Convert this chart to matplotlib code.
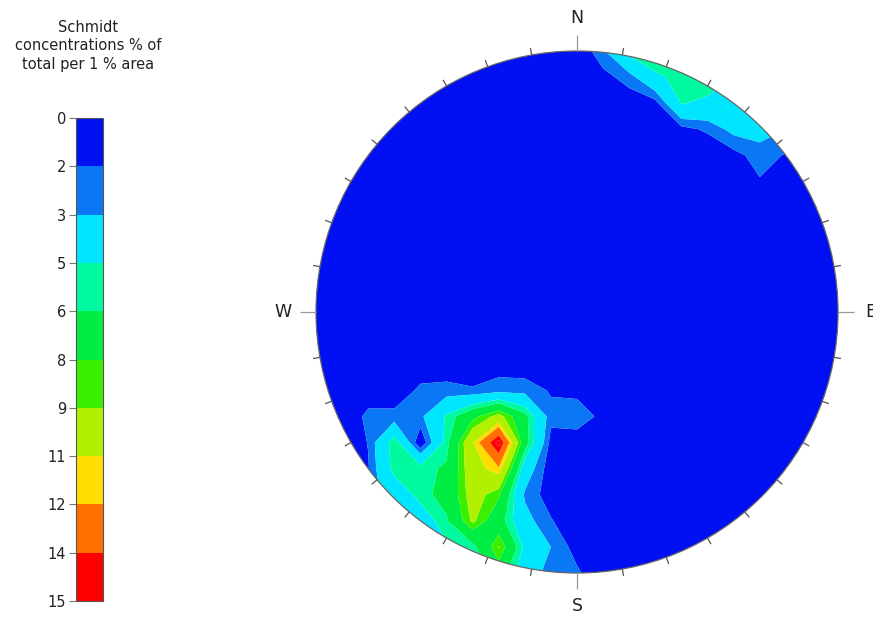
import numpy as np
import matplotlib
matplotlib.use("Agg")
import matplotlib.pyplot as plt
from matplotlib.colors import ListedColormap, BoundaryNorm
from matplotlib.patches import Circle
import matplotlib.cm as cm

# contour levels (% of total per 1 % area) and colorbar labels
levels = [0, 2, 3, 5, 6, 8, 9, 11, 12, 14, 15]
tick_labels = ["0", "2", "3", "5", "6", "8", "9", "11", "12", "14", "15"]
level_colors = ["#0010F2", "#0A78F5", "#00E6FF", "#00FAA0", "#00EE44",
                "#3AF000", "#B2F000", "#FFDD00", "#FF7000", "#FF0000"]

grid_x = np.linspace(-1, 1, 21)
grid_y = np.linspace(1, -1, 21)
density = [
    [1, 1, 1, 1, 1, 1, 1, 1, 1, 1, 1.0, 2.8, 5.5, 6.5, 6.3, 6.0, 5.0, 4.0, 3.5, 2.5, 1.5],
    [1, 1, 1, 1, 1, 1, 1, 1, 1, 1, 1.0, 1.6, 2.5, 4.6, 5.6, 6.0, 5.0, 4.0, 3.5, 2.5, 1.5],
    [1, 1, 1, 1, 1, 1, 1, 1, 1, 1, 1.0, 1.0, 1.3, 1.6, 5.1, 4.6, 4.0, 3.8, 3.2, 2.2, 1.5],
    [1, 1, 1, 1, 1, 1, 1, 1, 1, 1, 1.0, 1.0, 1.0, 1.0, 1.6, 2.2, 3.4, 3.5, 3.0, 2.0, 1.2],
    [1, 1, 1, 1, 1, 1, 1, 1, 1, 1, 1.0, 1.0, 1.0, 1.0, 1.0, 1.0, 1.6, 2.5, 1.9, 1.5, 1.0],
    [1, 1, 1, 1, 1, 1, 1, 1, 1, 1, 1.0, 1.0, 1.0, 1.0, 1.0, 1.0, 1.0, 1.9, 1.2, 1.0, 1.0],
    [1, 1, 1, 1, 1, 1, 1, 1, 1, 1, 1.0, 1.0, 1.0, 1.0, 1.0, 1.0, 1.0, 1.0, 1.0, 1.0, 1.0],
    [1, 1, 1, 1, 1, 1, 1, 1, 1, 1, 1.0, 1.0, 1.0, 1.0, 1.0, 1.0, 1.0, 1.0, 1.0, 1.0, 1.0],
    [1, 1, 1, 1, 1, 1, 1, 1, 1, 1, 1.0, 1.0, 1.0, 1.0, 1.0, 1.0, 1.0, 1.0, 1.0, 1.0, 1.0],
    [1, 1, 1, 1, 1, 1, 1, 1, 1, 1, 1.0, 1.0, 1.0, 1.0, 1.0, 1.0, 1.0, 1.0, 1.0, 1.0, 1.0],
    [1, 1, 1, 1, 1, 1, 1, 1, 1, 1, 1.0, 1.0, 1.0, 1.0, 1.0, 1.0, 1.0, 1.0, 1.0, 1.0, 1.0],
    [1, 1, 1, 1, 1, 1, 1, 1, 1, 1, 1.0, 1.0, 1.0, 1.0, 1.0, 1.0, 1.0, 1.0, 1.0, 1.0, 1.0],
    [1, 1, 1, 1.2, 1.4, 1.4, 1.4, 1.5, 1.4, 1.2, 1.0, 1.0, 1.0, 1.0, 1.0, 1.0, 1.0, 1.0, 1.0, 1.0, 1.0],
    [1, 1.0, 1.3, 1.3, 2.2, 2.3, 2.1, 2.5, 2.5, 1.9, 1.7, 1.0, 1.0, 1.0, 1.0, 1.0, 1.0, 1.0, 1.0, 1.0, 1.0],
    [1, 1.0, 2.3, 2.3, 2.7, 5.2, 7.5, 9.6, 6.5, 2.3, 2.6, 1.7, 1.0, 1.0, 1.0, 1.0, 1.0, 1.0, 1.0, 1.0, 1.0],
    [1, 1.0, 2.05, 5.8, 1.0, 5.5, 10.8, 15.6, 6.8, 1.6, 1.4, 1.0, 1.0, 1.0, 1.0, 1.0, 1.0, 1.0, 1.0, 1.0, 1.0],
    [1, 1.0, 1.9, 5.5, 5.6, 6.2, 10.2, 11.8, 4.0, 1.3, 1.1, 1.0, 1.0, 1.0, 1.0, 1.0, 1.0, 1.0, 1.0, 1.0, 1.0],
    [1, 1.0, 2.3, 3.8, 5.5, 6.6, 9.8, 8.2, 2.8, 1.4, 1.0, 1.0, 1.0, 1.0, 1.0, 1.0, 1.0, 1.0, 1.0, 1.0, 1.0],
    [1, 1.2, 2.4, 3.6, 4.0, 5.8, 9.3, 6.8, 3.5, 2.1, 1.0, 1.0, 1.0, 1.0, 1.0, 1.0, 1.0, 1.0, 1.0, 1.0, 1.0],
    [1, 1.3, 2.2, 3.2, 4.0, 4.8, 5.5, 9.1, 4.6, 3.0, 1.5, 1.0, 1.0, 1.0, 1.0, 1.0, 1.0, 1.0, 1.0, 1.0, 1.0],
    [1, 1.2, 2.0, 3.0, 3.8, 4.5, 5.0, 7.0, 4.0, 2.4, 2.2, 1.0, 1.0, 1.0, 1.0, 1.0, 1.0, 1.0, 1.0, 1.0, 1.0],
]
cardinals = ["N", "E", "S", "W"]

W, H = 873, 617
fig = plt.figure(figsize=(W / 100, H / 100), dpi=100)

cmap = ListedColormap(level_colors)
cmap.set_over(level_colors[-1])
norm = BoundaryNorm(levels, cmap.N)

# stereonet axes: centre (577, 312) px, radius 261 px
R = 261.0
lim = 1.25
span = 2 * lim * R
ax = fig.add_axes([(577 - span / 2) / W, (H - 312 - span / 2) / H, span / W, span / H])
ax.set_xlim(-lim, lim)
ax.set_ylim(-lim, lim)
ax.axis("off")

X, Y = np.meshgrid(grid_x, grid_y)
Z = np.array(density)
cs = ax.contourf(X, Y, Z, levels=levels, cmap=cmap, norm=norm, extend="max", antialiased=True)
clip = Circle((0, 0), 1.0, transform=ax.transData, facecolor="none", edgecolor="none")
ax.add_patch(clip)
cs.set_clip_path(clip)

ax.add_patch(Circle((0, 0), 1.0, fill=False, lw=0.9, ec="#666666", zorder=3))

# 10 degree ticks round the primitive
for az in range(0, 360, 10):
    a = np.radians(az)
    if az % 90 == 0:
        r1, col = 1.06, "#999999"
    else:
        r1, col = 1.027, "#555555"
    ax.plot([np.sin(a), r1 * np.sin(a)], [np.cos(a), r1 * np.cos(a)],
            color=col, lw=0.9, solid_capstyle="butt", zorder=3, clip_on=False)

for lab, az in zip(cardinals, [0, 90, 180, 270]):
    a = np.radians(az)
    ax.text(1.125 * np.sin(a), 1.125 * np.cos(a), lab, ha="center", va="center",
            fontsize=12.5, color="#222222", clip_on=False)

# colorbar
cax = fig.add_axes([76 / W, (H - 601) / H, 27 / W, 483 / H])
sm = cm.ScalarMappable(norm=norm, cmap=cmap)
cb = fig.colorbar(sm, cax=cax, spacing="uniform", ticks=levels)
cb.set_ticklabels(tick_labels)
cax.invert_yaxis()
cax.yaxis.set_ticks_position("left")
cax.tick_params(axis="y", length=5, width=0.8, color="#777777", labelsize=10.5,
                labelcolor="#222222", pad=2)
cb.outline.set_linewidth(0.8)
cb.outline.set_edgecolor("#555555")

fig.text(88 / W, 1 - 46 / H, "Schmidt\nconcentrations % of\ntotal per 1 % area",
         ha="center", va="center", fontsize=10.5, linespacing=1.25, color="#222222")

fig.savefig("out.png", dpi=100)
